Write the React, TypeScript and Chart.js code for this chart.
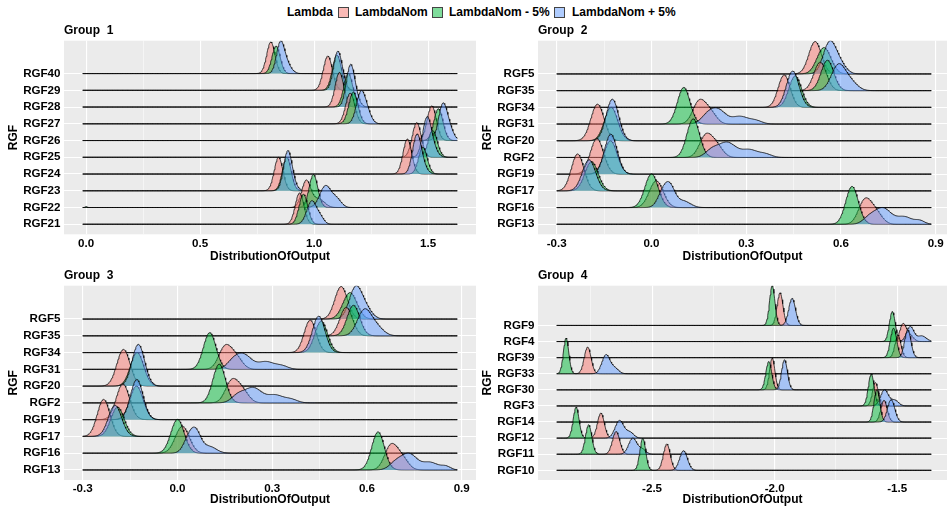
import React, { useEffect, useRef } from "react";
import { Chart, registerables } from "chart.js";
Chart.register(...registerables);

type Comp = [number, number, number]; // [centre, spread, peak height in row units]

const SERIES = ["LambdaNom", "LambdaNom - 5%", "LambdaNom + 5%"];
const FILLS = ["rgba(248,118,109,0.5)", "rgba(0,186,56,0.5)", "rgba(97,156,255,0.5)"];
const LEGEND_FILLS = ["rgba(248,118,109,0.5)", "rgba(0,186,56,0.5)", "rgba(97,156,255,0.5)"];

// ---------- Group 1 (rows listed top to bottom) ----------
const g1Rows = ["RGF40", "RGF29", "RGF28", "RGF27", "RGF26", "RGF25", "RGF24", "RGF23", "RGF22", "RGF21"];
const g1Nom: Comp[][] = [
  [[0.81, 0.018, 1.89]],
  [[1.06, 0.02, 2.05]],
  [[1.111, 0.019, 2.07]],
  [[1.158, 0.02, 1.83]],
  [[1.516, 0.02, 2.07]],
  [[1.45, 0.02, 2.07]],
  [[1.409, 0.019, 2.09]],
  [[0.844, 0.019, 2.0]],
  [[0.965, 0.02, 1.6], [1.02, 0.025, 0.5]],
  [[0.936, 0.019, 1.87]],
];
const g1Minus: Comp[][] = [
  [[0.833, 0.018, 1.64]],
  [[1.1, 0.02, 2.1]],
  [[1.15, 0.02, 2.0]],
  [[1.172, 0.02, 1.89]],
  [[1.545, 0.02, 1.9]],
  [[1.52, 0.02, 1.6]],
  [[1.477, 0.019, 1.6]],
  [[0.88, 0.019, 2.0]],
  [[0.997, 0.019, 1.97], [0.0, 0.004, 0.06]],
  [[0.953, 0.019, 1.8]],
];
const g1Plus: Comp[][] = [
  [[0.851, 0.017, 1.7], [0.878, 0.02, 0.6]],
  [[1.102, 0.018, 2.2], [1.125, 0.015, 0.4]],
  [[1.158, 0.018, 2.3], [1.18, 0.018, 0.5]],
  [[1.205, 0.02, 1.85], [1.235, 0.018, 0.5]],
  [[1.564, 0.019, 2.1], [1.595, 0.018, 0.6]],
  [[1.494, 0.019, 2.2], [1.52, 0.02, 0.5]],
  [[1.45, 0.019, 2.2], [1.475, 0.02, 0.4]],
  [[0.883, 0.018, 2.2], [0.905, 0.018, 0.4]],
  [[1.05, 0.025, 1.3], [1.1, 0.02, 0.45]],
  [[0.99, 0.022, 1.4], [1.03, 0.015, 0.3]],
];
const g1Range = [-0.015, 1.628];
const g1Ticks = [0, 0.5, 1.0, 1.5];
const g1TickLabels = ["0.0", "0.5", "1.0", "1.5"];
const g1Minor = [0.25, 0.75, 1.25];

// ---------- Groups 2 and 3 (identical data) ----------
const g2Rows = ["RGF5", "RGF35", "RGF34", "RGF31", "RGF20", "RGF2", "RGF19", "RGF17", "RGF16", "RGF13"];
const g2Nom: Comp[][] = [
  [[0.518, 0.02, 1.94]],
  [[0.534, 0.02, 1.7]],
  [[0.42, 0.019, 1.94]],
  [[0.15, 0.02, 1.3], [0.185, 0.02, 0.7]],
  [[-0.171, 0.021, 2.19]],
  [[0.171, 0.02, 1.25], [0.205, 0.02, 0.7]],
  [[-0.173, 0.021, 2.13]],
  [[-0.234, 0.02, 2.21]],
  [[0.015, 0.022, 1.6]],
  [[0.675, 0.02, 1.4], [0.71, 0.02, 0.7]],
];
const g2Minus: Comp[][] = [
  [[0.546, 0.022, 1.58]],
  [[0.557, 0.02, 1.82]],
  [[0.455, 0.02, 1.88]],
  [[0.102, 0.02, 2.19]],
  [[-0.128, 0.021, 2.0]],
  [[0.132, 0.02, 2.31]],
  [[-0.13, 0.021, 2.0]],
  [[-0.19, 0.021, 1.75]],
  [[0.0, 0.021, 2.02]],
  [[0.635, 0.02, 2.27]],
];
const g2Plus: Comp[][] = [
  [[0.563, 0.02, 1.8], [0.595, 0.02, 0.6]],
  [[0.591, 0.022, 1.5], [0.63, 0.022, 0.5]],
  [[0.447, 0.02, 2.17]],
  [[0.21, 0.025, 0.85], [0.28, 0.025, 0.45], [0.33, 0.02, 0.2], [0.175, 0.02, 0.4]],
  [[-0.124, 0.02, 2.49]],
  [[0.239, 0.028, 0.9], [0.31, 0.025, 0.45], [0.36, 0.02, 0.2], [0.19, 0.02, 0.4]],
  [[-0.129, 0.02, 2.39]],
  [[-0.198, 0.021, 1.86]],
  [[0.04, 0.018, 1.1], [0.062, 0.015, 0.8], [0.1, 0.022, 0.4]],
  [[0.733, 0.025, 0.95], [0.8, 0.025, 0.45], [0.85, 0.015, 0.2], [0.69, 0.02, 0.4]],
];
const g2Range = [-0.3, 0.886];
const g2Ticks = [-0.3, 0, 0.3, 0.6, 0.9];
const g2TickLabels = ["-0.3", "0.0", "0.3", "0.6", "0.9"];
const g2Minor = [-0.15, 0.15, 0.45, 0.75];

// ---------- Group 4 ----------
const g4Rows = ["RGF9", "RGF4", "RGF39", "RGF33", "RGF30", "RGF3", "RGF14", "RGF12", "RGF11", "RGF10"];
const g4Nom: Comp[][] = [
  [[-1.978, 0.012, 2.03]],
  [[-1.477, 0.013, 1.04], [-1.45, 0.015, 0.4]],
  [[-1.497, 0.012, 1.4]],
  [[-2.763, 0.014, 1.66]],
  [[-2.01, 0.011, 1.97]],
  [[-1.589, 0.012, 1.45]],
  [[-1.554, 0.013, 1.35]],
  [[-2.709, 0.014, 1.56]],
  [[-2.647, 0.015, 1.41]],
  [[-2.44, 0.014, 1.64]],
];
const g4Minus: Comp[][] = [
  [[-2.01, 0.011, 2.47]],
  [[-1.52, 0.012, 1.87]],
  [[-1.515, 0.013, 1.83]],
  [[-2.851, 0.011, 2.22]],
  [[-2.024, 0.012, 1.76]],
  [[-1.606, 0.012, 1.99]],
  [[-1.583, 0.012, 2.01]],
  [[-2.81, 0.012, 1.93]],
  [[-2.759, 0.013, 1.83]],
  [[-2.538, 0.012, 1.99]],
];
const g4Plus: Comp[][] = [
  [[-1.929, 0.014, 1.68]],
  [[-1.447, 0.015, 0.93], [-1.4, 0.018, 0.35]],
  [[-1.457, 0.013, 1.72]],
  [[-2.688, 0.017, 1.18], [-2.65, 0.015, 0.3]],
  [[-1.96, 0.012, 1.87]],
  [[-1.552, 0.016, 1.0], [-1.51, 0.015, 0.35]],
  [[-1.525, 0.015, 1.39]],
  [[-2.633, 0.018, 1.1], [-2.59, 0.015, 0.35]],
  [[-2.579, 0.017, 1.0], [-2.54, 0.014, 0.3]],
  [[-2.372, 0.016, 1.22]],
];
const g4Range = [-2.889, -1.361];
const g4Ticks = [-2.5, -2.0, -1.5];
const g4TickLabels = ["-2.5", "-2.0", "-1.5"];
const g4Minor = [-2.75, -2.25, -1.75];

const FONT = '"Liberation Sans", Arial, Helvetica, sans-serif';

interface PanelCfg {
  title: string;
  rows: string[];
  series: Comp[][][];
  range: number[];
  ticks: number[];
  tickLabels: string[];
  minor: number[];
  left: number;
  top: number;
  width: number;
  height: number;
  areaLeft: number; // absolute px
  areaRight: number;
  areaTop: number;
  areaBottom: number;
  titleY: number; // absolute centre of panel title
  xTickY: number;
  xTitleY: number;
  yTitleX: number;
}

function ridge(comps: Comp[], lo: number, hi: number, base: number) {
  const n = 600;
  const pts: { x: number; y: number }[] = [];
  for (let i = 0; i <= n; i++) {
    const x = lo + ((hi - lo) * i) / n;
    let d = 0;
    for (const [m, s, h] of comps) {
      const z = (x - m) / s;
      d += h * Math.exp(-0.5 * z * z);
    }
    pts.push({ x, y: base + d });
  }
  return pts;
}

function Panel({ cfg }: { cfg: PanelCfg }) {
  const ref = useRef<HTMLCanvasElement>(null);
  useEffect(() => {
    const canvas = ref.current;
    if (!canvas) return;
    const n = cfg.rows.length;
    const [lo, hi] = cfg.range;
    const span = hi - lo;
    const xmin = lo - 0.05 * span;
    const xmaxFull = hi + 0.05 * span;
    const pxPerUnit = (cfg.areaRight - cfg.areaLeft) / (xmaxFull - xmin);
    const visibleRight = Math.min(cfg.areaRight, cfg.left + cfg.width);
    const xmax = xmin + (visibleRight - cfg.areaLeft) / pxPerUnit;

    const datasets: any[] = [];
    let ymax = 0;
    // bottom row first so it is painted last (on top)
    for (let r = n - 1; r >= 0; r--) {
      const base = n - 1 - r;
      for (let s = 2; s >= 0; s--) {
        const data = ridge(cfg.series[s][r], lo, hi, base);
        for (const p of data) if (p.y > ymax) ymax = p.y;
        datasets.push({
          label: SERIES[s],
          data,
          parsing: false,
          borderColor: "rgba(0,0,0,0.8)",
          borderWidth: 0.9,
          backgroundColor: FILLS[s],
          fill: { value: base },
          pointRadius: 0,
          tension: 0,
        });
      }
    }

    const tickFont = { family: FONT, size: 11.6, weight: "bold" as const, lineHeight: 1.2 };
    const titleFont = { family: FONT, size: 12, weight: "bold" as const, lineHeight: 1.2 };
    const tLH = 12 * 1.2;
    const kLH = 11.6 * 1.2;

    const localTop = cfg.areaTop - cfg.top;
    const localBottom = cfg.areaBottom - cfg.top;
    const titleC = cfg.titleY - cfg.top;
    const padTop = titleC - tLH / 2;
    const titleGap = localTop - padTop - tLH;
    const xAxisH = cfg.height - localBottom;
    const xTickPad = cfg.xTickY - cfg.areaBottom - kLH / 2;
    const xTitlePad = cfg.height - (cfg.xTitleY - cfg.top) - tLH / 2;
    const yAxisW = cfg.areaLeft - cfg.left;
    const yTitlePad = cfg.yTitleX - cfg.left - tLH / 2;
    const padRight = Math.max(0, cfg.left + cfg.width - cfg.areaRight);

    const allX = [...cfg.ticks, ...cfg.minor].sort((a, b) => a - b);
    const isMajor = (v: number) => cfg.ticks.some((t) => Math.abs(t - v) < 1e-9);
    const labelOf = (v: number) => {
      const i = cfg.ticks.findIndex((t) => Math.abs(t - v) < 1e-9);
      return i >= 0 ? cfg.tickLabels[i] : "";
    };

    const bg = {
      id: "panelBg",
      beforeDraw(chart: any) {
        const { ctx, chartArea } = chart;
        ctx.save();
        ctx.fillStyle = "#EBEBEB";
        ctx.fillRect(chartArea.left, chartArea.top, chartArea.right - chartArea.left, chartArea.bottom - chartArea.top);
        ctx.restore();
      },
    };

    const chart = new Chart(canvas, {
      type: "line",
      data: { datasets },
      plugins: [bg],
      options: {
        animation: false,
        responsive: false,
        maintainAspectRatio: false,
        events: [],
        layout: { padding: { top: padTop, left: 0, right: padRight, bottom: 0 } },
        plugins: {
          legend: { display: false },
          tooltip: { enabled: false },
          title: {
            display: true,
            text: cfg.title,
            align: "start",
            fullSize: false,
            color: "#000",
            font: titleFont,
            padding: { top: 0, bottom: titleGap },
          },
        },
        scales: {
          x: {
            type: "linear",
            min: xmin,
            max: xmax,
            afterBuildTicks: (s: any) => {
              s.ticks = allX.map((v) => ({ value: v }));
            },
            afterFit: (s: any) => {
              s.height = xAxisH;
              s.paddingLeft = 0;
              s.paddingRight = 0;
            },
            ticks: {
              autoSkip: false,
              maxRotation: 0,
              padding: xTickPad,
              color: "#000",
              font: tickFont,
              callback: (v: any) => labelOf(Number(v)),
            },
            grid: {
              color: "#FFFFFF",
              lineWidth: (ctx: any) => (ctx.tick && isMajor(ctx.tick.value) ? 1.1 : 0.5),
              drawTicks: false,
            },
            border: { display: false },
            title: {
              display: true,
              text: "DistributionOfOutput",
              color: "#000",
              font: titleFont,
              padding: { top: xTitlePad, bottom: xTitlePad },
            },
          },
          y: {
            type: "linear",
            min: -0.6,
            max: ymax,
            afterBuildTicks: (s: any) => {
              s.ticks = cfg.rows.map((_, i) => ({ value: i }));
            },
            afterFit: (s: any) => {
              s.width = yAxisW;
              s.paddingTop = 0;
              s.paddingBottom = 0;
            },
            ticks: {
              autoSkip: false,
              padding: 3.5,
              color: "#000",
              font: tickFont,
              callback: (v: any) => cfg.rows[n - 1 - Number(v)],
            },
            grid: { color: "#FFFFFF", lineWidth: 1.1, drawTicks: false },
            border: { display: false },
            title: {
              display: true,
              text: "RGF",
              color: "#000",
              font: titleFont,
              padding: { top: yTitlePad, bottom: yTitlePad },
            },
          },
        },
      } as any,
    });
    return () => chart.destroy();
  }, [cfg]);
  return (
    <canvas
      ref={ref}
      width={cfg.width}
      height={cfg.height}
      style={{ position: "absolute", left: cfg.left, top: cfg.top, width: cfg.width, height: cfg.height }}
    />
  );
}

const panels: PanelCfg[] = [
  {
    title: "Group  1", rows: g1Rows, series: [g1Nom, g1Minus, g1Plus], range: g1Range,
    ticks: g1Ticks, tickLabels: g1TickLabels, minor: g1Minor,
    left: 0, top: 0, width: 480, height: 266,
    areaLeft: 64, areaRight: 476, areaTop: 40.7, areaBottom: 234.3,
    titleY: 30.5, xTickY: 243.3, xTitleY: 257, yTitleX: 13.5,
  },
  {
    title: "Group  2", rows: g2Rows, series: [g2Nom, g2Minus, g2Plus], range: g2Range,
    ticks: g2Ticks, tickLabels: g2TickLabels, minor: g2Minor,
    left: 478, top: 0, width: 469, height: 266,
    areaLeft: 538, areaRight: 950, areaTop: 40.7, areaBottom: 234.3,
    titleY: 30.5, xTickY: 243.3, xTitleY: 257, yTitleX: 487.5,
  },
  {
    title: "Group  3", rows: g2Rows, series: [g2Nom, g2Minus, g2Plus], range: g2Range,
    ticks: g2Ticks, tickLabels: g2TickLabels, minor: g2Minor,
    left: 0, top: 250, width: 480, height: 258,
    areaLeft: 64, areaRight: 476, areaTop: 285.7, areaBottom: 480,
    titleY: 275.7, xTickY: 489, xTitleY: 500, yTitleX: 13.8,
  },
  {
    title: "Group  4", rows: g4Rows, series: [g4Nom, g4Minus, g4Plus], range: g4Range,
    ticks: g4Ticks, tickLabels: g4TickLabels, minor: g4Minor,
    left: 478, top: 250, width: 469, height: 258,
    areaLeft: 538, areaRight: 950, areaTop: 285.7, areaBottom: 480,
    titleY: 275.7, xTickY: 489, xTitleY: 500, yTitleX: 488,
  },
];

const legendText: React.CSSProperties = {
  position: "absolute",
  top: 5,
  fontFamily: FONT,
  fontWeight: "bold",
  fontSize: 12,
  lineHeight: "14px",
  color: "#000",
  whiteSpace: "pre",
};

function Legend() {
  const boxes = [338, 432, 554];
  const texts = [355, 449, 572];
  return (
    <>
      <div style={{ ...legendText, left: 287 }}>Lambda</div>
      {SERIES.map((s, i) => (
        <React.Fragment key={s}>
          <div
            style={{
              position: "absolute",
              left: boxes[i],
              top: 7,
              width: 9,
              height: 9,
              border: "1px solid #444",
              background: LEGEND_FILLS[i],
            }}
          />
          <div style={{ ...legendText, left: texts[i] }}>{s}</div>
        </React.Fragment>
      ))}
    </>
  );
}

export default function App() {
  return (
    <div style={{ position: "absolute", left: 0, top: 0, width: 947, height: 508, background: "#fff", overflow: "hidden" }}>
      <Legend />
      {panels.map((p) => (
        <Panel key={p.title} cfg={p} />
      ))}
    </div>
  );
}
